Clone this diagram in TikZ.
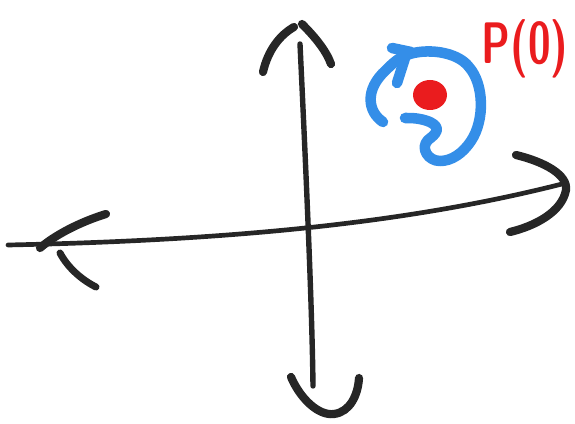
\documentclass[tikz,border=0pt]{standalone}
\usepackage{tikz}
\usetikzlibrary{
  calc,       % coordinate helpers
  positioning % relative placement
}
\definecolor{inkblack}{RGB}{38,38,38}
\definecolor{inkblue}{RGB}{52,142,232}
\definecolor{inkred}{RGB}{234,28,30}
\tikzset{
  axis stroke/.style={
    draw=inkblack,
    line width=4.6pt,
    line cap=round
  },
  head stroke/.style={
    draw=inkblack,
    line width=7pt,
    line cap=round
  },
  loop stroke/.style={
    draw=inkblue,
    line width=9pt,
    line cap=round,
    line join=round
  },
  label text/.style={
    text=inkred,
    font=\fontsize{50}{50}\selectfont\sffamily\bfseries,
    xscale=0.7,
    inner sep=0pt
  }
}

\begin{document}
\begin{tikzpicture}[x=0.03cm, y=-0.03cm]
  \useasboundingbox (0,0) rectangle (575,424);

  % horizontal axis
  \draw[axis stroke, line width=4pt] (8,245) .. controls (250,240) and (420,220) .. (562,184);
  % left head
  \draw[head stroke] (106,214) .. controls (80,222) and (55,235) .. (40,248);
  \draw[head stroke, line width=6pt] (60,253) .. controls (68,268) and (82,280) .. (96,287);
  % right head
  \draw[head stroke] (516,155) .. controls (545,162) and (568,175) .. (566,190)
    .. controls (562,212) and (535,226) .. (510,232);

  % vertical axis
  \draw[axis stroke] (300,44) .. controls (305,150) and (312,300) .. (313,386);
  % top head
  \draw[head stroke] (263,72) .. controls (268,50) and (280,35) .. (294,27);
  \draw[head stroke] (302,24) .. controls (314,36) and (326,50) .. (331,64);
  % bottom head
  \draw[head stroke] (291,377) .. controls (300,398) and (318,416) .. (334,414)
    .. controls (350,412) and (358,395) .. (359,378);

  % blue loop round the point
  \draw[loop stroke] (383,122) .. controls (368,112) and (364,90) .. (386,70)
    .. controls (394,62) and (400,57) .. (407,55)
    .. controls (425,48) and (457,51) .. (469,67)
    .. controls (484,84) and (485,120) .. (471,141)
    .. controls (463,153) and (452,161) .. (440,161)
    .. controls (428,161) and (420,148) .. (428,140)
    .. controls (436,134) and (442,128) .. (430,122)
    .. controls (420,118) and (412,118) .. (405,118);
  \draw[loop stroke] (392,48) -- (411,52);
  \draw[loop stroke] (397,83) -- (405,58);

  % the point
  \fill[inkred] (430,95) ellipse [x radius=17, y radius=15];

  \node[label text] (plabel) at (525,49) {P(0)};
\end{tikzpicture}
\end{document}
